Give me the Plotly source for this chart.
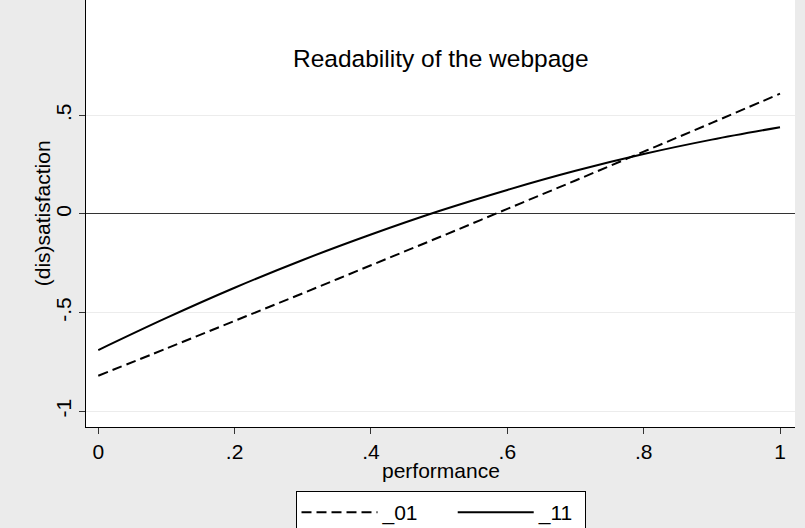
import plotly.graph_objects as go

# performance grid and the two fitted (dis)satisfaction curves
performance = [0.0, 0.1, 0.2, 0.3, 0.4, 0.5, 0.6, 0.7, 0.8, 0.9, 1.0]
sat_01 = [-0.82, -0.682, -0.542, -0.402, -0.26, -0.118, 0.026, 0.170, 0.316, 0.462, 0.61]
sat_11 = [-0.69, -0.527, -0.374, -0.233, -0.104, 0.015, 0.122, 0.219, 0.304, 0.377, 0.44]

x_ticks = [0, 0.2, 0.4, 0.6, 0.8, 1]
x_labels = ["0", ".2", ".4", ".6", ".8", "1"]
y_ticks = [-1, -0.5, 0, 0.5]
y_labels = ["-1", "-.5", "0", ".5"]

FONT = "Arial, Liberation Sans, Helvetica, sans-serif"
NBSP = "\u00a0"

fig = go.Figure()
# trailing nbsp widen the first legend entry like the stata key spacing
fig.add_trace(go.Scatter(x=performance, y=sat_01, name="_01" + NBSP * 5, mode="lines",
                         line=dict(color="black", width=2, dash="10px,5px", shape="spline")))
fig.add_trace(go.Scatter(x=performance, y=sat_11, name="_11" + NBSP, mode="lines",
                         line=dict(color="black", width=2, shape="spline")))

fig.update_layout(
    width=805, height=528,
    margin=dict(l=86, r=10, t=0, b=101, pad=0, autoexpand=False),
    paper_bgcolor="#ebebeb", plot_bgcolor="white",
    font=dict(family=FONT, size=21, color="black"),
    showlegend=True,
    legend=dict(orientation="h", x=0.5, xanchor="center", y=-0.15, yanchor="top",
                bgcolor="white", bordercolor="black", borderwidth=1,
                itemwidth=76, font=dict(size=21)),
    annotations=[
        dict(text="Readability of the webpage", x=0.5, y=0.864,
             xref="paper", yref="paper", xanchor="center", yanchor="middle",
             showarrow=False, font=dict(size=24.5, family=FONT)),
        # axis titles placed by hand, stata puts them tight to the tick labels
        dict(text="performance", x=0.5, y=-0.103, xref="paper", yref="paper",
             xanchor="center", yanchor="middle", showarrow=False, font=dict(size=21)),
        dict(text="(dis)satisfaction", x=-0.061, y=0.5, xref="paper", yref="paper",
             xanchor="center", yanchor="middle", textangle=-90, showarrow=False,
             font=dict(size=21)),
    ],
)
fig.update_xaxes(range=[-0.018, 1.022], tickvals=x_ticks, ticktext=x_labels, automargin=False,
                 showgrid=False, zeroline=False, showline=True, linecolor="black", linewidth=1,
                 ticks="outside", ticklen=6, tickcolor="#333")
fig.update_yaxes(range=[-1.08, 1.085], tickvals=y_ticks, ticktext=y_labels, tickangle=-90,
                 automargin=False,
                 showgrid=True, gridcolor="#ececec", gridwidth=1,
                 zeroline=True, zerolinecolor="#333", zerolinewidth=1,
                 showline=True, linecolor="black", linewidth=1,
                 ticks="outside", ticklen=6, tickcolor="#333")

# drop the default 8px body margin so the figure sits at the window corner
fig.write_html("out.html", config={"displayModeBar": False},
               post_script="document.body.style.margin='0px';")
